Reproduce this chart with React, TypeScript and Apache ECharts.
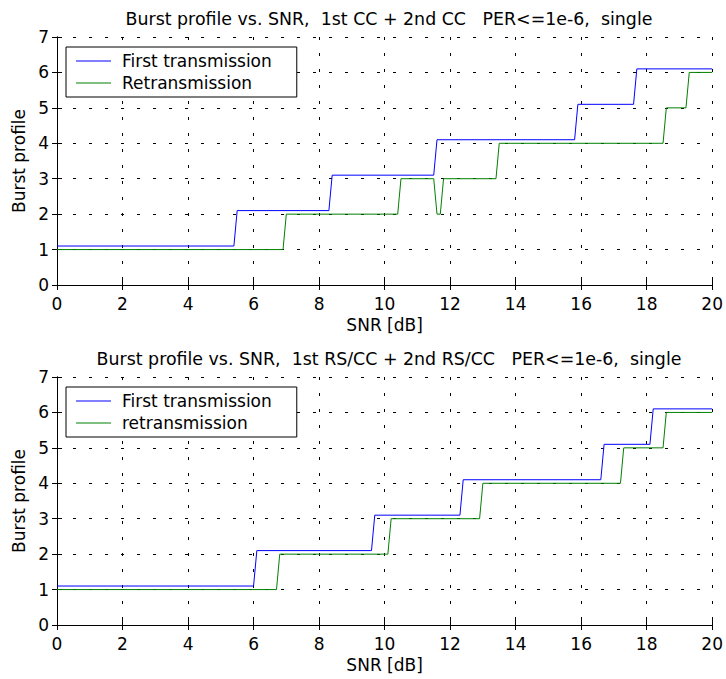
import React, { useEffect, useRef } from "react";
import * as echarts from "echarts";

// ---- data ----
const topTitle = "Burst profile vs. SNR,  1st CC + 2nd CC   PER<=1e-6,  single";
const bottomTitle = "Burst profile vs. SNR,  1st RS/CC + 2nd RS/CC   PER<=1e-6,  single";
const xName = "SNR [dB]";
const yName = "Burst profile";

const topFirstName = "First transmission";
const topRetxName = "Retransmission";
const bottomFirstName = "First transmission";
const bottomRetxName = "retransmission";

const topFirstX = [0, 5.4, 5.5, 8.3, 8.4, 11.5, 11.6, 15.8, 15.9, 17.6, 17.7, 20];
const topFirstY = [1.1, 1.1, 2.1, 2.1, 3.1, 3.1, 4.1, 4.1, 5.1, 5.1, 6.1, 6.1];
const topRetxX = [0, 6.9, 7.0, 10.4, 10.5, 11.5, 11.6, 11.7, 11.8, 13.4, 13.5, 18.5, 18.6, 19.2, 19.3, 20];
const topRetxY = [1, 1, 2, 2, 3, 3, 2, 2, 3, 3, 4, 4, 5, 5, 6, 6];

const bottomFirstX = [0, 6.0, 6.1, 9.6, 9.7, 12.3, 12.4, 16.6, 16.7, 18.1, 18.2, 20];
const bottomFirstY = [1.1, 1.1, 2.1, 2.1, 3.1, 3.1, 4.1, 4.1, 5.1, 5.1, 6.1, 6.1];
const bottomRetxX = [0, 6.7, 6.8, 10.1, 10.2, 12.9, 13.0, 17.2, 17.3, 18.5, 18.6, 20];
const bottomRetxY = [1, 1, 2, 2, 3, 3, 4, 4, 5, 5, 6, 6];

const X_MIN = 0;
const X_MAX = 20;
const X_STEP = 2;
const Y_MIN = 0;
const Y_MAX = 7;
const Y_STEP = 1;

const FONT = "DejaVu Sans";
const FS = 17;
const BLUE = "#0000ff";
const GREEN = "#008000";

const zip = (xs: number[], ys: number[]) => xs.map((x, i) => [x, ys[i]]);

const gridDash = { type: [3, 13] as any, color: "#000", width: 1 };

function xAxes(gridIndex: number) {
  return [
    {
      type: "value",
      gridIndex,
      position: "bottom",
      min: X_MIN,
      max: X_MAX,
      interval: X_STEP,
      name: xName,
      nameLocation: "middle",
      nameGap: 31,
      nameTextStyle: { fontFamily: FONT, fontSize: FS, color: "#000" },
      axisLine: { show: true, lineStyle: { color: "#000", width: 1 } },
      axisTick: { show: true, inside: true, length: 5, lineStyle: { color: "#000" } },
      axisLabel: { fontFamily: FONT, fontSize: FS, color: "#000", margin: 10 },
      splitLine: { show: true, lineStyle: gridDash },
    },
    {
      type: "value",
      gridIndex,
      position: "top",
      min: X_MIN,
      max: X_MAX,
      interval: X_STEP,
      axisLine: { show: true, lineStyle: { color: "#000", width: 1 } },
      axisTick: { show: true, inside: true, length: 5, lineStyle: { color: "#000" } },
      axisLabel: { show: false },
      splitLine: { show: false },
    },
  ];
}

function yAxes(gridIndex: number) {
  return [
    {
      type: "value",
      gridIndex,
      position: "left",
      min: Y_MIN,
      max: Y_MAX,
      interval: Y_STEP,
      name: yName,
      nameLocation: "middle",
      nameGap: 21,
      nameTextStyle: { fontFamily: FONT, fontSize: FS, color: "#000" },
      axisLine: { show: true, lineStyle: { color: "#000", width: 1 } },
      axisTick: { show: true, inside: true, length: 5, lineStyle: { color: "#000" } },
      axisLabel: { fontFamily: FONT, fontSize: FS, color: "#000", margin: 8 },
      splitLine: { show: true, lineStyle: gridDash },
    },
    {
      type: "value",
      gridIndex,
      position: "right",
      min: Y_MIN,
      max: Y_MAX,
      interval: Y_STEP,
      axisLine: { show: true, lineStyle: { color: "#000", width: 1 } },
      axisTick: { show: true, inside: true, length: 5, lineStyle: { color: "#000" } },
      axisLabel: { show: false },
      splitLine: { show: false },
    },
  ];
}

function legend(names: string[], top: number) {
  return {
    data: names.map((n) => ({ name: n, icon: "path://M0,0L35,0L35,1L0,1Z" })),
    orient: "vertical",
    left: 66,
    top,
    itemWidth: 35,
    itemHeight: 22,
    itemGap: 0,
    symbolKeepAspect: true,
    padding: [3, 25, 3, 10],
    borderColor: "#000",
    borderWidth: 1,
    borderRadius: 0,
    backgroundColor: "#fff",
    selectedMode: false,
    textStyle: { fontFamily: FONT, fontSize: FS, color: "#000", padding: [0, 0, 0, 6], lineHeight: 22 },
  };
}

function line(name: string, xs: number[], ys: number[], color: string, idx: number) {
  return {
    type: "line",
    name,
    xAxisIndex: idx * 2,
    yAxisIndex: idx * 2,
    data: zip(xs, ys),
    symbol: "none",
    smooth: false,
    lineStyle: { color, width: 1 },
    itemStyle: { color },
    z: 5,
  };
}

export default function App() {
  const ref = useRef<HTMLDivElement>(null);
  useEffect(() => {
    if (!ref.current) return;
    const chart = echarts.init(ref.current, undefined, { renderer: "svg" });
    chart.setOption({
      animation: false,
      backgroundColor: "#fff",
      title: [
        {
          text: topTitle,
          left: 384,
          top: 5,
          textAlign: "center",
          textStyle: { fontFamily: FONT, fontSize: 17.4, fontWeight: "normal", color: "#000" },
        },
        {
          text: bottomTitle,
          left: 384,
          top: 345,
          textAlign: "center",
          textStyle: { fontFamily: FONT, fontSize: 17.4, fontWeight: "normal", color: "#000" },
        },
      ],
      grid: [
        { left: 57, top: 37, width: 656, height: 248, containLabel: false },
        { left: 57, top: 377, width: 656, height: 248, containLabel: false },
      ],
      xAxis: [...xAxes(0), ...xAxes(1)],
      yAxis: [...yAxes(0), ...yAxes(1)],
      legend: [legend([topFirstName, topRetxName], 47), legend([bottomFirstName, bottomRetxName], 387)],
      series: [
        line(topFirstName, topFirstX, topFirstY, BLUE, 0),
        line(topRetxName, topRetxX, topRetxY, GREEN, 0),
        line(bottomFirstName, bottomFirstX, bottomFirstY, BLUE, 1),
        line(bottomRetxName, bottomRetxX, bottomRetxY, GREEN, 1),
      ],
    });
    return () => chart.dispose();
  }, []);
  return (
    <div
      ref={ref}
      style={{ position: "absolute", left: 0, top: 0, width: 726, height: 679, background: "#fff" }}
    />
  );
}
